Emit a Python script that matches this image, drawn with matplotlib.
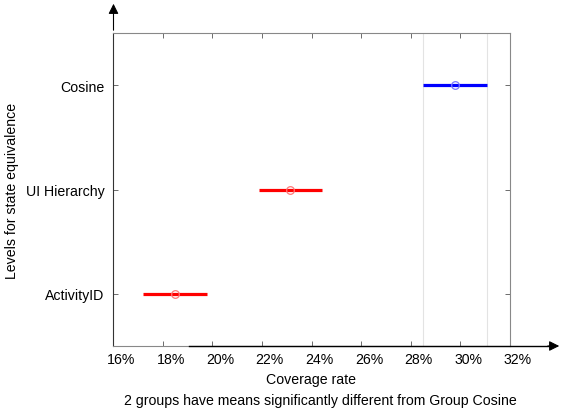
import matplotlib.pyplot as plt
import matplotlib.transforms as mtransforms

plt.rcParams['font.family'] = ['Liberation Sans', 'DejaVu Sans']

# group estimates (coverage rate, %) and comparison intervals
groups = ['ActivityID', 'UI Hierarchy', 'Cosine']
means = [18.5, 23.14, 29.79]
lower = [17.21, 21.89, 28.5]
upper = [19.79, 24.43, 31.08]
colors = ['red', 'red', 'blue']
xticks = [16, 18, 20, 22, 24, 26, 28, 30, 32]

fs = 10.2

fig = plt.figure(figsize=(5.62, 4.14), dpi=100)
ax = fig.add_axes([113 / 562, 67 / 414, 397 / 562, 313 / 414])

# light reference lines at the ends of the selected group's interval
ax.axvline(lower[2], color='#e3e3e3', lw=0.8, zorder=0)
ax.axvline(upper[2], color='#e3e3e3', lw=0.8, zorder=0)

for i, g in enumerate(groups):
    y = i + 1
    ax.plot([lower[i], upper[i]], [y, y], color=colors[i], lw=2.3, solid_capstyle='butt')
    ax.plot(means[i], y, 'o', mfc='none', mec='#ff7777' if colors[i] == 'red' else '#7777ff',
            ms=5.5, mew=0.9)

ax.set_xlim(16, 32)
ax.set_ylim(0.5, 3.5)
ax.set_xticks(xticks)
ax.set_xticklabels([f'{t}%' for t in xticks])
ax.set_yticks([1, 2, 3])
ax.set_yticklabels(groups)
ax.tick_params(direction='in', length=3.5, width=0.6, color='#555555',
               labelsize=fs, top=True, right=True)
ax.tick_params(axis='x', pad=4)
ax.tick_params(axis='y', pad=6)
for lab in ax.get_xticklabels():
    lab.set_transform(lab.get_transform() + mtransforms.ScaledTranslation(8 / 100, 0, fig.dpi_scale_trans))

for side in ['top', 'right', 'bottom']:
    ax.spines[side].set_color('#888888')
    ax.spines[side].set_linewidth(0.8)
ax.spines['left'].set_color('#333333')
ax.spines['left'].set_linewidth(0.8)

ax.set_xlabel('Coverage rate', fontsize=fs, labelpad=5)
ax.set_ylabel('Levels for state equivalence', fontsize=fs)
ax.yaxis.set_label_coords((19 - 113) / 397, 0.5)
fig.text(320 / 562, 1 - 401 / 414, '2 groups have means significantly different from Group Cosine',
         ha='center', va='center', fontsize=fs)

# axis arrows
fig.add_artist(plt.Line2D([189 / 562, 550 / 562], [67 / 414, 67 / 414], color='black', lw=1.0))
ax.annotate('', xy=(562 / 562, 67 / 414), xytext=(545 / 562, 67 / 414), xycoords='figure fraction',
            arrowprops=dict(arrowstyle='-|>', color='black', lw=0.8, mutation_scale=15))
ax.annotate('', xy=(113.5 / 562, 1 - 2 / 414), xytext=(113.5 / 562, 1 - 34 / 414), xycoords='figure fraction',
            arrowprops=dict(arrowstyle='-|>', color='black', lw=0.8, mutation_scale=15))

fig.savefig('out.png', dpi=100)
